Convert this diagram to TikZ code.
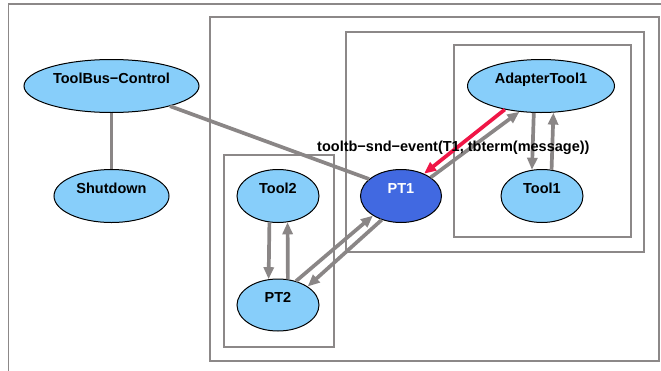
\documentclass[tikz,border=0pt]{standalone}
\usepackage{fontspec}
\setmainfont{Liberation Sans}
\usetikzlibrary{shapes.geometric,arrows.meta}
\definecolor{nodeblue}{RGB}{135,206,250}
\definecolor{ptblue}{RGB}{65,105,225}
\definecolor{edgegray}{RGB}{138,134,134}
\definecolor{boxgray}{RGB}{140,136,136}
\definecolor{msgred}{RGB}{240,22,70}
\begin{document}
\begin{tikzpicture}[x=1pt,y=-1pt,
  boxline/.style={draw=boxgray,line width=1.4pt},
  ell/.style={ellipse,draw=black,line width=1pt,fill=nodeblue,inner sep=0pt,minimum height=53pt},
  lbl/.style={anchor=base,inner sep=0pt,font=\fontsize{14.5}{17}\selectfont\bfseries},
  edge/.style={draw=edgegray,line width=3.7pt},
  arr/.style={edge,-{Triangle[length=12pt,width=10pt]}},
  redarr/.style={draw=msgred,line width=3.7pt,-{Triangle[length=12pt,width=10pt]}}
]
\useasboundingbox (0,0) rectangle (661,370);
\fill[white] (0,0) rectangle (661,370);
\clip (0,0) rectangle (661,370);
% clusters
\draw[boxline] (8.5,4) rectangle (700,400);
\draw[boxline] (210,17) rectangle (659,361);
\draw[boxline] (346,32) rectangle (644,252);
\draw[boxline] (454,45) rectangle (631,237);
\draw[boxline] (224,155) rectangle (334,347);
% nodes
\node[ell,minimum width=175pt] (tbc) at (111.5,86) {};
\node[ell,minimum width=115pt] (shut) at (111.5,196) {};
\node[ell,minimum width=82pt] (tool2) at (278,196) {};
\node[ell,minimum width=81pt,fill=ptblue] (pt1) at (401,196) {};
\node[ell,minimum width=82pt] (tool1) at (542,196) {};
\node[ell,minimum width=147pt] (adapter) at (541,86) {};
\node[ell,minimum width=82pt,minimum height=52pt] (pt2) at (278,305) {};
% labels
\node[lbl] (tbct) at (111.5,83) {ToolBus−Control};
\node[lbl] (shutt) at (111.5,193) {Shutdown};
\node[lbl] (tool2t) at (278,193) {Tool2};
\node[lbl,text=white] (pt1t) at (401,193) {PT1};
\node[lbl] (tool1t) at (542,193) {Tool1};
\node[lbl] (adaptert) at (541,83) {AdapterTool1};
\node[lbl] (pt2t) at (278,302) {PT2};
% edges
\draw[edge] (tbc.south) -- (shut.north);
\draw[edge] (tbc.-19.4) -- (pt1.152);
\draw[arr] (pt1.32.5) -- (adapter.-130);
\draw[arr] (adapter.-105) -- (tool1.111);
\draw[arr] (tool1.70) -- (adapter.-65);
\draw[arr] (tool2.-108) -- (pt2.110);
\draw[arr] (pt2.69) -- (tool2.-70);
\draw[arr] (pt2.53) -- (pt1.-145);
\draw[arr] (pt1.-129) -- (pt2.32);
\draw[redarr] (adapter.-147) -- (pt1.44);
\node[lbl,anchor=base west] (msg) at (317,151.5) {tooltb−snd−event(T1, tbterm(message))};
\end{tikzpicture}
\end{document}
